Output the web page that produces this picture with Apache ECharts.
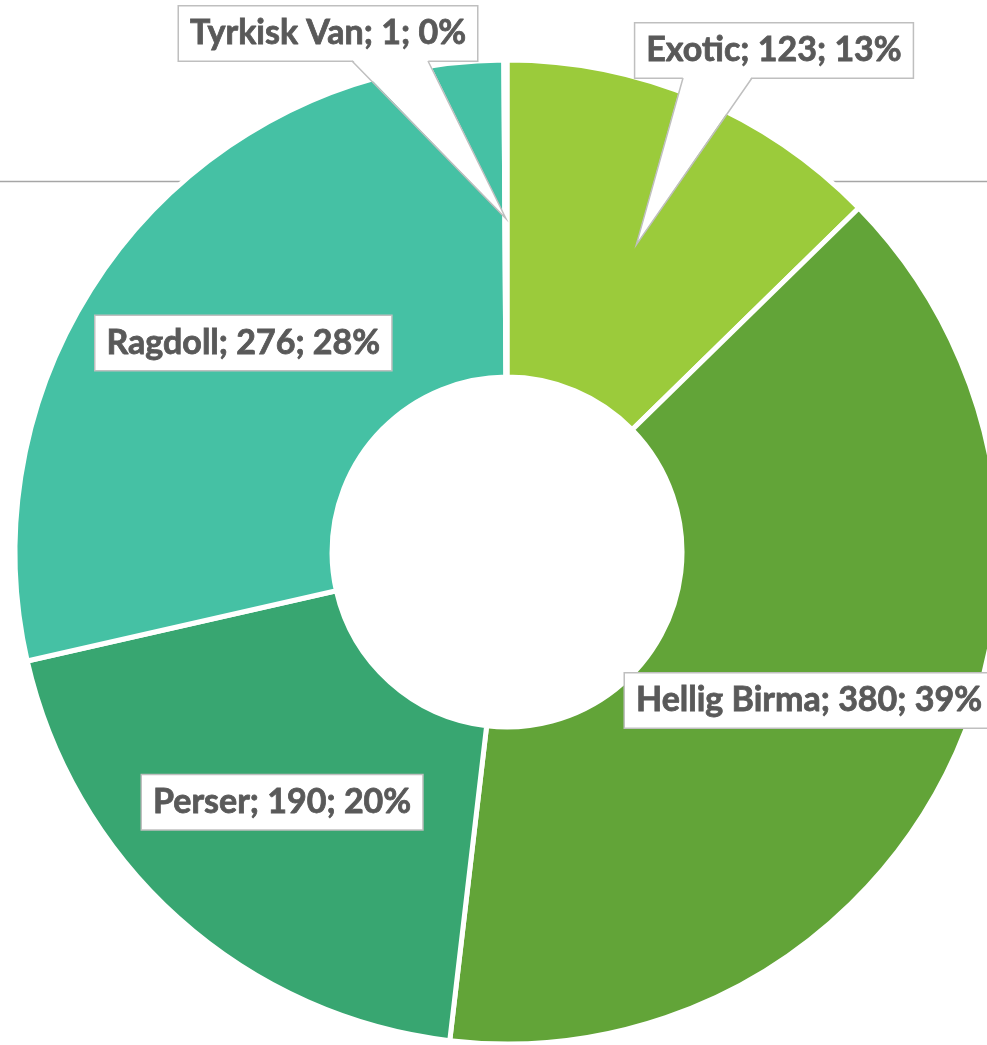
<!DOCTYPE html>
<html>
<head>
<meta charset="utf-8">
<script src="https://cdn.jsdelivr.net/npm/echarts@6/dist/echarts.min.js"></script>
<style>
  html, body { margin: 0; padding: 0; background: #fff; }
  #chart { width: 987px; height: 1045px; }
</style>
</head>
<body>
<div id="chart"></div>
<script>
  // data
  const breeds = ['Exotic', 'Hellig Birma', 'Perser', 'Ragdoll', 'Tyrkisk Van'];
  const counts = [123, 380, 190, 276, 1];
  const colors = ['#9BCB3B', '#62A438', '#38A671', '#45C1A4', '#3DB8A9'];

  // layout
  const cx = 507, cy = 552, r0 = 175, r1 = 492;
  // callout boxes that sit outside the ring (center of box, pointer base)
  const callouts = {
    'Exotic': { x: 774, y: 50.5, base: [683, 752], baseY: 78 },
    'Tyrkisk Van': { x: 328, y: 33.5, base: [352, 428], baseY: 61 }
  };

  const total = counts.reduce((a, b) => a + b, 0);
  const rm = (r0 + r1) / 2;

  // pointer wedges go from the box to the middle of the slice
  const pointers = [];
  let acc = 0;
  counts.forEach((v, i) => {
    const mid = (acc + v / 2) / total * Math.PI * 2;
    acc += v;
    const c = callouts[breeds[i]];
    if (!c) return;
    const tip = [cx + rm * Math.sin(mid), cy - rm * Math.cos(mid)];
    pointers.push({
      type: 'polygon', z: 100,
      shape: { points: [[c.base[0], c.baseY - 1.5], [c.base[1], c.baseY - 1.5], tip] },
      style: { fill: '#fff' }
    });
    pointers.push({
      type: 'polyline', z: 101,
      shape: { points: [[c.base[0], c.baseY], tip, [c.base[1], c.baseY]] },
      style: { stroke: '#BFBFBF', lineWidth: 1.5, fill: null }
    });
  });

  const myChart = echarts.init(document.getElementById('chart'));
  const option = {
    animation: false,
    color: colors,
    graphic: [
      {
        type: 'line', z: 0,
        shape: { x1: 0, y1: 181.5, x2: 987, y2: 181.5 },
        style: { stroke: '#A6A6A6', lineWidth: 1.5 }
      }
    ].concat(pointers),
    series: [
      {
        type: 'pie',
        z: 2,
        center: [cx, cy],
        radius: [r0, r1],
        startAngle: 90,
        clockwise: true,
        percentPrecision: 0,
        avoidLabelOverlap: false,
        silent: true,
        data: breeds.map((b, i) => ({ name: b, value: counts[i] })),
        itemStyle: { borderColor: '#fff', borderWidth: 5 },
        label: {
          show: true,
          position: 'inside',
          rotate: 0,
          formatter: '{b}; {c}; {d}%',
          fontFamily: 'Lato',
          fontWeight: 'bold',
          fontSize: 34,
          lineHeight: 34,
          color: '#595959',
          textBorderColor: '#595959',
          textBorderWidth: 0.8,
          backgroundColor: '#fff',
          borderColor: '#BFBFBF',
          borderWidth: 1.5,
          padding: [10, 11]
        },
        labelLine: { show: false },
        labelLayout: function (params) {
          const c = callouts[breeds[params.dataIndex]];
          if (!c) return {};
          return { x: c.x, y: c.y, align: 'center', verticalAlign: 'middle' };
        }
      }
    ]
  };
  myChart.setOption(option);
</script>
</body>
</html>
